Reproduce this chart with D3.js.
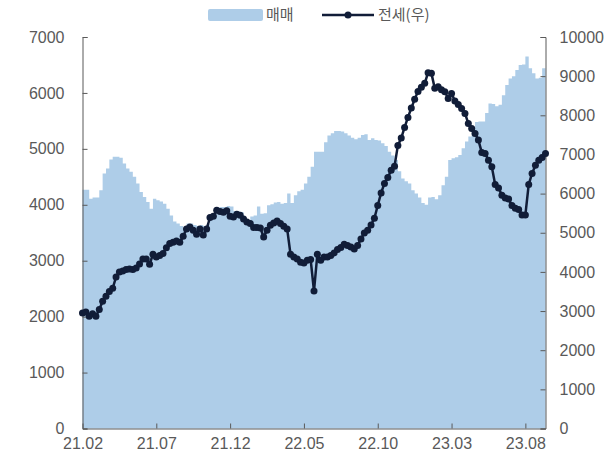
<!DOCTYPE html>
<html><head><meta charset="utf-8">
<script src="https://cdn.jsdelivr.net/npm/d3@7"></script>
<style>body{margin:0;background:#fff} svg{display:block}</style>
</head><body><svg id="c" width="611" height="455"></svg>
<script>
// ---- data ----
const startWeek = "2021-02-01";
const tickLabels = ["21.02","21.07","21.12","22.05","22.10","23.03","23.08"];
const leftTicks = [0,1000,2000,3000,4000,5000,6000,7000];
const rightTicks = [0,1000,2000,3000,4000,5000,6000,7000,8000,9000,10000];
const seriesNames = ["매매","전세(우)"];
const maemae = [
4270,4270,4110,4130,4130,4260,4560,4650,4810,4857,
4860,4840,4740,4650,4590,4500,4380,4230,4140,4050,
3930,4110,4080,4060,4020,3930,3810,3700,3665,3620,
3590,3665,3665,3640,3620,3640,3620,3650,3750,3850,
3950,3960,3960,3980,3970,3890,3880,3870,3740,3720,
3790,3810,3970,3840,3850,3990,4010,4040,4050,4020,
4030,4200,4030,4170,4240,4270,4380,4500,4680,4950,
4950,4950,5120,5240,5280,5320,5320,5310,5280,5240,
5200,5170,5200,5250,5260,5160,5190,5160,5150,5100,
5050,4950,4880,4800,4600,4470,4420,4380,4260,4200,
4130,4030,4000,4130,4140,4100,4170,4350,4500,4800,
4830,4850,4890,5010,5130,5220,5370,5480,5490,5490,
5640,5810,5800,5760,5790,5960,6140,6260,6300,6410,
6500,6510,6650,6440,6350,6260,6270,6440,6440];
const jeonse = [
2950,2975,2870,2930,2865,3040,3250,3380,3500,3580,
3870,4000,4020,4060,4075,4060,4100,4200,4330,4330,
4195,4450,4380,4420,4470,4620,4725,4760,4790,4755,
4910,5095,5150,5065,4960,5095,4945,5095,5390,5420,
5575,5540,5525,5560,5420,5405,5470,5448,5350,5277,
5235,5133,5133,5120,4893,5064,5192,5250,5302,5235,
5166,5097,4450,4381,4330,4246,4228,4297,4314,3512,
4450,4297,4381,4381,4417,4484,4570,4621,4706,4673,
4638,4586,4673,4842,4995,5064,5200,5371,5696,6018,
6258,6412,6598,6701,7231,7417,7690,7946,8184,8407,
8611,8714,8816,9088,9071,8688,8730,8650,8601,8432,
8560,8363,8278,8176,8049,7793,7665,7537,7366,7051,
7026,6854,6683,6233,6146,5959,5890,5860,5696,5627,
5593,5455,5455,6233,6514,6726,6854,6923,7026];

// ---- layout ----
const L = 82.5, R = 545.5, T = 37, B = 428.5;
const axisColor = "#595959", textColor = "#595959";
const areaColor = "#aecde8", lineColor = "#111d38";
const fontNum = "'Liberation Sans', Arial, sans-serif";
const fontKo = "'Noto Sans CJK KR', 'Liberation Sans', sans-serif";

const parse = d3.timeParse("%Y-%m-%d");
const categories = d3.range(maemae.length).map(i => d3.timeWeek.offset(parse(startWeek), i));
const tickEvery = 22;
const tickDates = categories.filter((d, i) => i % tickEvery === 0);

const svg = d3.select("#c");
const x = d3.scaleTime().domain([categories[0], categories[categories.length-1]]).range([L, R]);
const yL = d3.scaleLinear().domain([0, 7000]).range([B, T]);
const yR = d3.scaleLinear().domain([0, 10000]).range([B, T]);

const dataM = categories.map((d, i) => ({d, v: maemae[i]}));
const dataJ = categories.map((d, i) => ({d, v: jeonse[i]}));

svg.append("path").datum(dataM)
  .attr("fill", areaColor)
  .attr("d", d3.area().curve(d3.curveStepAfter).x(p => x(p.d)).y0(yL(0)).y1(p => yL(p.v)));

function styleAxis(g, fs) {
  g.select(".domain").attr("stroke", axisColor);
  g.selectAll(".tick line").attr("stroke", axisColor);
  g.selectAll(".tick text").attr("fill", textColor).style("font-size", fs + "px").style("font-family", fontNum);
}

const gl = svg.append("g").attr("transform", `translate(${L},0)`)
  .call(d3.axisLeft(yL).tickValues(leftTicks).tickFormat(d3.format("d")).tickSizeInner(-5).tickSizeOuter(-5).tickPadding(18));
styleAxis(gl, 16);
const gr = svg.append("g").attr("transform", `translate(${R},0)`)
  .call(d3.axisRight(yR).tickValues(rightTicks).tickFormat(d3.format("d")).tickSizeInner(-5).tickSizeOuter(-5).tickPadding(14));
styleAxis(gr, 16);
const gb = svg.append("g").attr("transform", `translate(0,${B})`)
  .call(d3.axisBottom(x).tickValues(tickDates).tickFormat((d, i) => tickLabels[i]).tickSizeInner(-5).tickSizeOuter(0).tickPadding(9));
styleAxis(gb, 16);
gb.selectAll(".tick text").attr("fill", textColor);

const line = d3.line().x(p => x(p.d)).y(p => yR(p.v));
svg.append("path").datum(dataJ).attr("fill", "none").attr("stroke", lineColor)
  .attr("stroke-width", 2.5).attr("stroke-linejoin", "round").attr("d", line);
svg.append("g").selectAll("circle").data(dataJ).join("circle")
  .attr("cx", p => x(p.d)).attr("cy", p => yR(p.v)).attr("r", 3.5).attr("fill", lineColor);

// legend
const lg = svg.append("g");
const ly = 15;
lg.append("rect").attr("x", 208).attr("y", ly - 6).attr("width", 55).attr("height", 12).attr("rx", 2).attr("fill", areaColor);
lg.append("text").attr("x", 266).attr("y", ly).attr("dy", "0.36em").attr("fill", textColor)
  .style("font-size", "15px").style("font-family", fontKo).text(seriesNames[0]);
lg.append("line").attr("x1", 322).attr("x2", 374).attr("y1", ly).attr("y2", ly).attr("stroke", lineColor).attr("stroke-width", 2.5);
lg.append("circle").attr("cx", 348).attr("cy", ly).attr("r", 3.5).attr("fill", lineColor);
lg.append("text").attr("x", 378).attr("y", ly).attr("dy", "0.36em").attr("fill", textColor)
  .style("font-size", "15px").style("font-family", fontKo).text(seriesNames[1]);
</script></body></html>
